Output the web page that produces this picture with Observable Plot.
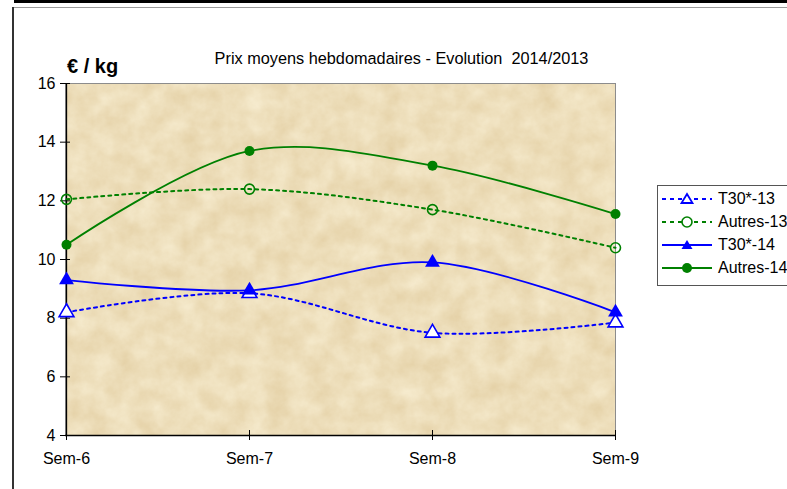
<!DOCTYPE html>
<html><head><meta charset="utf-8">
<script src="https://cdn.jsdelivr.net/npm/d3@7"></script>
<script src="https://cdn.jsdelivr.net/npm/@observablehq/plot@0.6"></script>
<style>
body{margin:0;background:#fff;font-family:"Liberation Sans",Arial,sans-serif;}
#wrap{position:relative;width:787px;height:489px;overflow:hidden;background:#fff;}
#chart{position:absolute;left:0;top:0;}
.topbar{position:absolute;left:14px;top:0;width:773px;height:3px;background:#000;}
.topline{position:absolute;left:14px;top:7px;width:773px;height:1px;background:#9a9a9a;}
.leftline{position:absolute;left:12px;top:7px;width:2px;height:482px;background:#333;}
#title{position:absolute;left:0;width:803px;top:49px;text-align:center;font-size:16.3px;color:#000;}
#unit{position:absolute;left:67px;top:55px;font-size:20px;font-weight:bold;color:#000;}
#legend{position:absolute;left:657px;top:185px;width:140px;height:101px;border:1px solid #555;background:#fff;box-sizing:border-box;}
.lrow{position:absolute;left:4px;height:20px;display:flex;align-items:center;font-size:16px;}
.lrow svg{margin-right:4px;}
</style></head><body>
<div id="wrap">
<div class="topbar"></div><div class="topline"></div><div class="leftline"></div>
<div id="chart"></div>
<div id="title">Prix moyens hebdomadaires - Evolution&nbsp; 2014/2013</div>
<div id="unit">€ / kg</div>
<div id="legend"></div>
</div>
<script>
const weeks = ["Sem-6", "Sem-7", "Sem-8", "Sem-9"];
const seriesNames = ["T30*-13", "Autres-13", "T30*-14", "Autres-14"];
const t30_13 = [8.2, 8.85, 7.5, 7.85];
const autres_13 = [12.05, 12.4, 11.7, 10.4];
const t30_14 = [9.3, 8.95, 9.9, 8.2];
const autres_14 = [10.5, 13.7, 13.2, 11.55];
const yTicks = [4, 6, 8, 10, 12, 14, 16];

const seriesValues = [t30_13, autres_13, t30_14, autres_14];
const styles = [
  {color: "#0000ff", dash: "3,4", symbol: "triangle", fill: "#fff"},
  {color: "#008000", dash: "3,4", symbol: "circle", fill: "none"},
  {color: "#0000ff", dash: null, symbol: "triangle", fill: "#0000ff"},
  {color: "#008000", dash: null, symbol: "circle", fill: "#008000"}
];
const rows = [];
seriesValues.forEach((vals, i) => vals.forEach((v, j) => rows.push({series: seriesNames[i], week: weeks[j], value: v})));

const marks = [
  Plot.frame({fill: "#ECDEBC", stroke: "none"}),
  Plot.frame({stroke: "#8c8c8c"}),
  Plot.ruleX([weeks[0]], {stroke: "#000", strokeWidth: 1.3}),
  Plot.ruleY([4], {stroke: "#000", strokeWidth: 1.3}),
  Plot.axisY({ticks: yTicks, tickSize: 10, dx: 5, tickPadding: 5, fontSize: 16, label: null, stroke: "#000"}),
  Plot.axisX({tickSize: 10, dy: -5, tickPadding: 12, fontSize: 16, label: null, stroke: "#000"})
];
seriesNames.forEach((name, i) => {
  const s = styles[i];
  const data = rows.filter(d => d.series === name);
  marks.push(Plot.line(data, {x: "week", y: "value", stroke: s.color, strokeWidth: s.dash ? 2 : 1.8, strokeDasharray: s.dash, curve: "catmull-rom"}));
  marks.push(Plot.dot(data, {x: "week", y: "value", symbol: s.symbol, r: s.symbol === "triangle" ? 5.5 : 5, stroke: s.color, strokeWidth: s.fill === s.color ? 0 : 1.6, fill: s.fill}));
});

const chart = Plot.plot({
  width: 787, height: 489,
  marginLeft: 65, marginRight: 172, marginTop: 83, marginBottom: 54,
  style: {fontFamily: "'Liberation Sans', Arial, sans-serif", fontSize: "16px", color: "#000", background: "transparent"},
  x: {type: "point", domain: weeks, padding: 0},
  y: {domain: [4, 16]},
  marks
});
document.getElementById("chart").appendChild(chart);

// paper texture for the plot background (style only)
const ns = "http://www.w3.org/2000/svg";
const defs = document.createElementNS(ns, "defs");
defs.innerHTML = `<filter id="tex" x="0" y="0" width="1" height="1" filterUnits="objectBoundingBox" color-interpolation-filters="sRGB">
  <feTurbulence type="fractalNoise" baseFrequency="0.045" numOctaves="5" seed="11" result="n"/>
  <feColorMatrix in="n" type="matrix" values="0.08 0 0 0 0.89  0.12 0 0 0 0.81  0.18 0 0 0 0.64  0 0 0 0 1" result="c"/>
  <feComposite in="c" in2="SourceGraphic" operator="in"/>
</filter>`;
chart.insertBefore(defs, chart.firstChild);
const bg = chart.querySelector('[aria-label="frame"]');
if (bg) bg.setAttribute("filter", "url(#tex)");

// legend
const leg = document.getElementById("legend");
seriesNames.forEach((name, i) => {
  const s = styles[i];
  const row = document.createElement("div");
  row.className = "lrow";
  row.style.top = (3 + i * 23) + "px";
  const sym = s.symbol === "triangle"
    ? `<path d="M25,5 L30.5,14 L19.5,14 Z" fill="${s.fill}" stroke="${s.color}" stroke-width="${s.fill === s.color ? 0 : 1.8}"/>`
    : `<circle cx="25" cy="10" r="5" fill="${s.fill === 'none' ? '#fff' : s.fill}" stroke="${s.color}" stroke-width="${s.fill === s.color ? 0 : 1.6}"/>`;
  row.innerHTML = `<svg width="52" height="20"><line x1="0" x2="50" y1="10" y2="10" stroke="${s.color}" stroke-width="2" ${s.dash ? 'stroke-dasharray="4,4"' : ''}/>${sym}</svg><span>${name}</span>`;
  leg.appendChild(row);
});
</script>
</body></html>
